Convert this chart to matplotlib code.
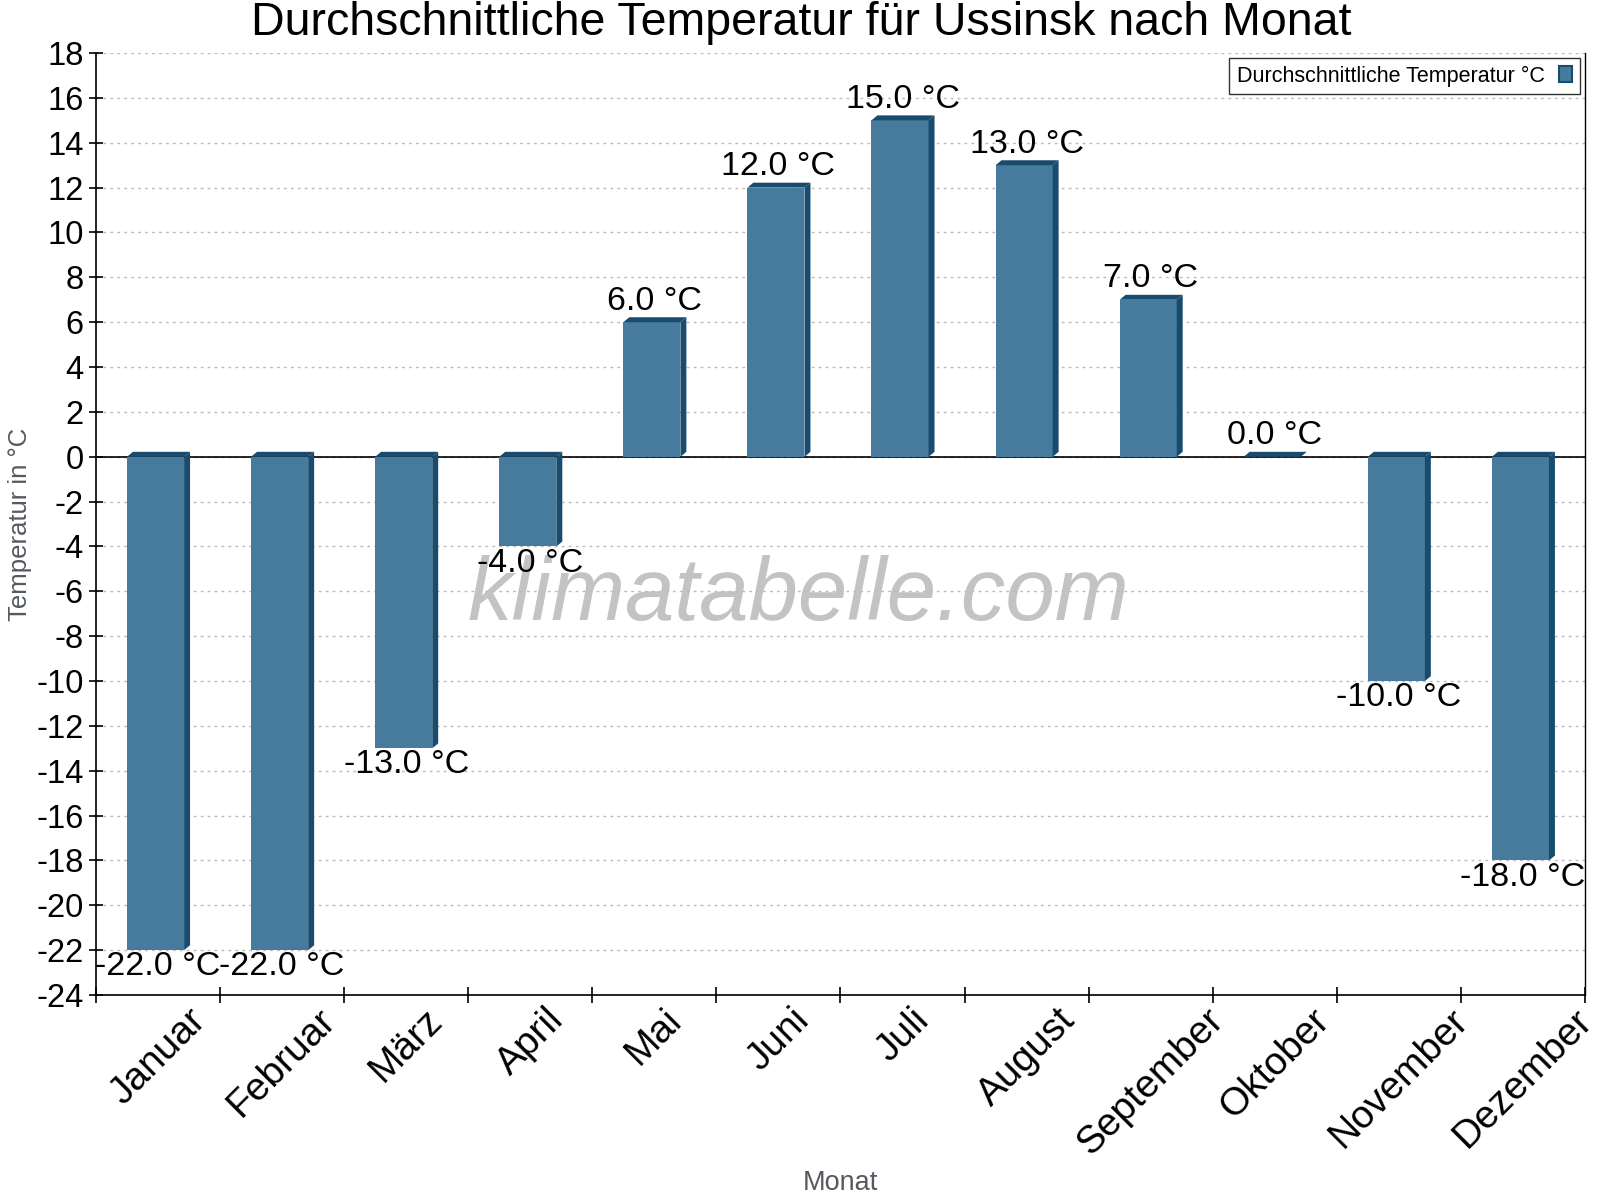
import matplotlib
matplotlib.use('Agg')
import matplotlib.pyplot as plt
from matplotlib.patches import Polygon, Patch
import numpy as np

monate = ['Januar', 'Februar', 'März', 'April', 'Mai', 'Juni', 'Juli',
          'August', 'September', 'Oktober', 'November', 'Dezember']
temperatur = [-22.0, -22.0, -13.0, -4.0, 6.0, 12.0, 15.0, 13.0, 7.0, 0.0, -10.0, -18.0]

FRONT = '#467b9d'
SIDE = '#184b6d'

plt.rcParams['font.family'] = ['Liberation Sans', 'DejaVu Sans']
plt.rcParams['axes.unicode_minus'] = False

fig = plt.figure(figsize=(16, 12), dpi=100)
ax = fig.add_axes([0.060, 0.1708, 0.9306, 0.785])

x = np.arange(len(monate))
breite = 0.46
versatz = -0.02
dx = 0.048   # Tiefe nach rechts (Kategorie-Einheiten)
dy = 0.22    # Tiefe nach oben (Grad)

for xi, t in zip(x, temperatur):
    links = xi + versatz - breite / 2
    rechts = links + breite
    oben = max(t, 0)
    unten = min(t, 0)
    if t != 0:
        # Vorderseite
        ax.add_patch(plt.Rectangle((links, unten), breite, oben - unten,
                                   facecolor=FRONT, edgecolor='none', zorder=3))
        # Seite rechts
        ax.add_patch(Polygon([(rechts, unten), (rechts + dx, unten + dy),
                              (rechts + dx, oben + dy), (rechts, oben)],
                             closed=True, facecolor=SIDE, edgecolor='none', zorder=3))
    # Deckel
    ax.add_patch(Polygon([(links, oben), (links + dx, oben + dy),
                          (rechts + dx, oben + dy), (rechts, oben)],
                         closed=True, facecolor=SIDE, edgecolor='none', zorder=3))

    # Werte
    if t >= 0:
        ax.text(xi, oben + dy + 0.02, f'{t:.1f} °C', ha='center', va='bottom',
                fontsize=24.5, zorder=5)
    else:
        ax.text(xi, unten - 0.05, f'{t:.1f} °C', ha='center', va='top',
                fontsize=24.5, zorder=5)

ax.set_xlim(-0.5, len(monate) - 0.5)
ax.set_ylim(-24, 18)
ax.set_yticks(np.arange(-24, 19, 2))
ax.tick_params(axis='y', labelsize=23.5, direction='inout', length=10, width=1.2, pad=4)
ax.grid(axis='y', linestyle=(0, (2, 3)), color='#bbbbbb', linewidth=1, zorder=0)
ax.axhline(0, color='black', linewidth=1.2, zorder=2)

# Ticks an den Kategoriegrenzen, Beschriftung in der Mitte
ax.set_xticks(np.arange(-0.5, len(monate), 1))
ax.set_xticklabels([])
ax.set_xticks(x, minor=True)
ax.set_xticklabels(monate, minor=True, rotation=45, ha='center', va='top', fontsize=28)
ax.tick_params(axis='x', which='major', direction='inout', length=12, width=1.2)
ax.tick_params(axis='x', which='minor', length=0, pad=5)

ax.spines['top'].set_visible(False)
ax.spines['right'].set_linewidth(1.0)
ax.spines['left'].set_linewidth(1.2)
ax.spines['bottom'].set_linewidth(1.2)

ax.set_ylabel('Temperatur in °C', fontsize=18.5, color='#555a60')
ax.yaxis.set_label_coords(-0.043, 0.5)
fig.text(0.525, 0.014, 'Monat', fontsize=19.5, color='#555a60', ha='center', va='center')
fig.suptitle('Durchschnittliche Temperatur für Ussinsk nach Monat', fontsize=33.5,
             x=0.501, y=0.981, va='center')

# Wasserzeichen
ax.text(0.472, 0.423, 'klimatabelle.com', transform=ax.transAxes, fontsize=64,
        style='italic', color='#c3c3c3', ha='center', va='center', zorder=1)

leg = ax.legend(handles=[Patch(facecolor=FRONT, edgecolor=SIDE, linewidth=1.5,
                               label='Durchschnittliche Temperatur °C')],
                loc='upper right', bbox_to_anchor=(0.9966, 0.9947), borderaxespad=0,
                fontsize=15.5, markerfirst=False, fancybox=False, edgecolor='black',
                handlelength=0.6, handleheight=0.8, borderpad=0.35, handletextpad=0.7)
leg.get_frame().set_linewidth(1.0)

fig.savefig('out.png', dpi=100)
